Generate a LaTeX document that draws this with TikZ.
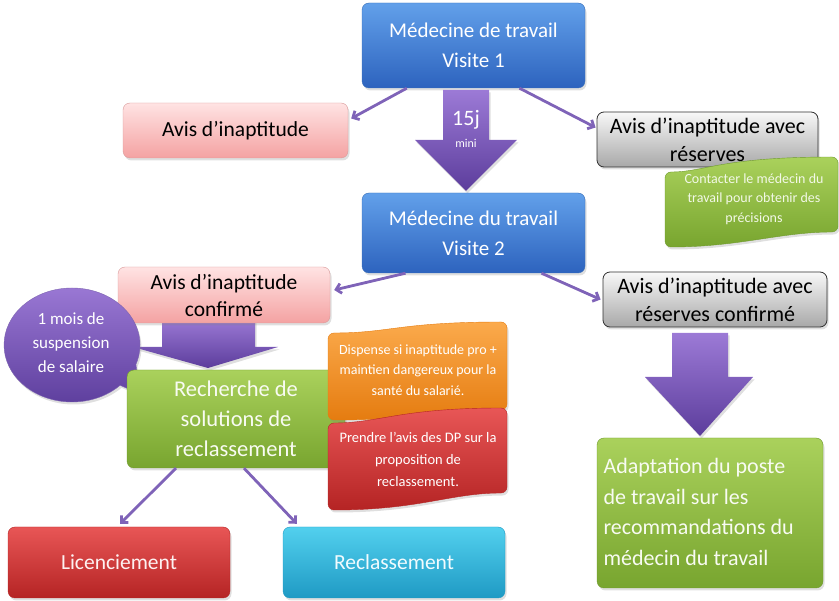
\documentclass[tikz,border=0pt]{standalone}
\usepackage{fontspec}
\setmainfont{Carlito}
\usetikzlibrary{shadows,arrows.meta,calc}
\definecolor{blueT}{HTML}{62A0EA}
\definecolor{blueB}{HTML}{2D63BE}
\definecolor{blueD}{HTML}{3A6FB8}
\definecolor{pinkT}{HTML}{FFE3E3}
\definecolor{pinkB}{HTML}{F4A2A2}
\definecolor{pinkD}{HTML}{D99A9A}
\definecolor{grayT}{HTML}{F8F8F8}
\definecolor{grayB}{HTML}{A8A8A8}
\definecolor{grayD}{HTML}{303030}
\definecolor{greenT}{HTML}{AAD15C}
\definecolor{greenB}{HTML}{78A52F}
\definecolor{greenD}{HTML}{6E9A2C}
\definecolor{purT}{HTML}{9C7AD6}
\definecolor{purB}{HTML}{5C3D9C}
\definecolor{redT}{HTML}{E85656}
\definecolor{redB}{HTML}{B52424}
\definecolor{cyanT}{HTML}{52D0EE}
\definecolor{cyanB}{HTML}{1F9AC4}
\definecolor{oraT}{HTML}{FBAA4C}
\definecolor{oraB}{HTML}{E57C10}
\definecolor{connc}{HTML}{7F63B8}
\begin{document}
\begin{tikzpicture}[x=1pt,y=-1pt,
  shad/.style={drop shadow={opacity=0.25,shadow xshift=1.5pt,shadow yshift=-2.5pt}},
  box/.style={shad, rounded corners=7pt, inner sep=2pt, align=center},
  bluebox/.style={box, top color=blueT, bottom color=blueB, draw=blueD, text=white, font=\fontsize{21}{30}\selectfont},
  pinkbox/.style={box, top color=pinkT, bottom color=pinkB, draw=pinkD, text=black, font=\fontsize{21.5}{27}\selectfont},
  graybox/.style={box, top color=grayT, bottom color=grayB, draw=grayD, line width=0.8pt, text=black, font=\fontsize{22}{28}\selectfont},
  greenbox/.style={box, top color=greenT, bottom color=greenB, draw=greenD, text=white!92!greenT},
  redbox/.style={box, top color=redT, bottom color=redB, draw=redB, text=white!92!redT, font=\fontsize{21.5}{28}\selectfont},
  cyanbox/.style={box, top color=cyanT, bottom color=cyanB, draw=cyanB, text=white!92!cyanT, font=\fontsize{21.5}{28}\selectfont},
  blockarrow/.style={shad, top color=purT, bottom color=purB, draw=none},
  wave/.style={shad, rounded corners=6pt},
  connector/.style={draw=connc, line width=2.8pt, -{Straight Barb[length=5pt,width=10pt]}},
  small/.style={text=white, align=center}
]
\useasboundingbox (0,0) rectangle (839,601);

% top level
\node[bluebox, minimum width=223pt, minimum height=85pt] (v1) at (473.5,45.5) {Médecine de travail\\Visite 1};
\node[pinkbox, minimum width=225pt, minimum height=55pt] (ai) at (235.5,130.5) {Avis d’inaptitude};
\node[graybox, minimum width=221pt, minimum height=55pt] (ar) at (707.5,139.5) {Avis d’inaptitude avec\\réserves};

% block arrow 15j
\path[blockarrow] (443,90) -- (489,90) -- (489,140) -- (517,140) -- (466,191) -- (415,140) -- (443,140) -- cycle;
\node[small, font=\fontsize{22}{22}\selectfont] (j15) at (466,120) {15j};
\node[small, font=\fontsize{12}{12}\selectfont] (mini) at (466,143) {mini};

% green wave
\path[wave, top color=greenT, bottom color=greenB, draw=greenD]
  (665,172) .. controls (705,172) and (720,157) .. (838,157) -- (838,232)
  .. controls (780,232) and (740,247) .. (665,247) -- cycle;
\node[align=center, text=white!85!greenT, font=\fontsize{14}{19.5}\selectfont] (contact) at (754,199) {Contacter le médecin du\\travail pour obtenir des\\précisions};

% second level
\node[bluebox, minimum width=223pt, minimum height=80pt] (v2) at (473.5,233) {Médecine du travail\\Visite 2};

% arrow confirm -> recherche
\path[blockarrow] (162,318) -- (255,318) -- (255,347) -- (278,347) -- (208,368) -- (133,347) -- (162,347) -- cycle;
\node[pinkbox, minimum width=212pt, minimum height=56pt] (aic) at (224,295) {Avis d’inaptitude\\confirmé};
\node[graybox, minimum width=224pt, minimum height=55pt] (arc) at (715,299.5) {Avis d’inaptitude avec\\réserves confirmé};

% callout
\path[shad, top color=purT, bottom color=purB, draw=purB!80]
  (120.1,385.3) arc[start angle=45, end angle=380, x radius=68, y radius=57] -- (140,394) -- cycle;
\node[align=center, text=white, font=\fontsize{17}{24}\selectfont] (mois) at (71,343) {1 mois de\\suspension\\de salaire};

% recherche
\node[greenbox, minimum width=218pt, minimum height=98pt, font=\fontsize{22.5}{30}\selectfont] (rech) at (236,419) {Recherche de\\solutions de\\reclassement};

% orange wave
\path[wave, top color=oraT, bottom color=oraB, draw=oraB]
  (328,333) .. controls (390,333) and (400,322) .. (507,322) -- (507,410)
  .. controls (450,410) and (420,420) .. (328,420) -- cycle;
\node[small, font=\fontsize{14}{20.5}\selectfont] (disp) at (418,370) {Dispense si inaptitude pro +\\maintien dangereux pour la\\santé du salarié.};

% red wave
\path[wave, top color=redT, bottom color=redB, draw=redB]
  (328,423) .. controls (380,423) and (400,408) .. (507,408) -- (507,493)
  .. controls (450,493) and (420,510) .. (328,510) -- cycle;
\node[small, font=\fontsize{14.5}{22}\selectfont] (prendre) at (418,459) {Prendre l’avis des DP sur la\\proposition de\\reclassement.};

% right block arrow
\path[blockarrow] (672,333) -- (728,333) -- (728,377) -- (753,377) -- (700,436) -- (645,377) -- (672,377) -- cycle;
\node[greenbox, minimum width=226pt, minimum height=150pt] (adapt) at (710,513) {};
\node[anchor=west, align=left, text=white!92!greenT, font=\fontsize{22}{30.5}\selectfont] (adtxt) at (600,512) {Adaptation du poste\\de travail sur les\\recommandations du\\médecin du travail};

% bottom
\node[redbox, minimum width=222pt, minimum height=71pt] (lic) at (119,562.5) {Licenciement};
\node[cyanbox, minimum width=222pt, minimum height=71pt] (recl) at (394,562.5) {Reclassement};

% connectors
\draw[connector] ($(v1.south west)+(45,0)$) -- ($(ai.east)+(3,-12)$);
\draw[connector] ($(v1.south)+(46,0)$) -- ($(ar.west)+(-1,-12)$);
\draw[connector] ($(v2.south)+(-68,0)$) -- ($(aic.east)+(4,-5)$);
\draw[connector] ($(v2.south)+(68,0)$) -- ($(arc.west)+(-2,0)$);
\draw[connector] ($(rech.south)+(-60,0)$) -- ($(lic.north)+(1,-3)$);
\draw[connector] ($(rech.south)+(8,0)$) -- ($(recl.north west)+(14,-3)$);
\end{tikzpicture}
\end{document}
